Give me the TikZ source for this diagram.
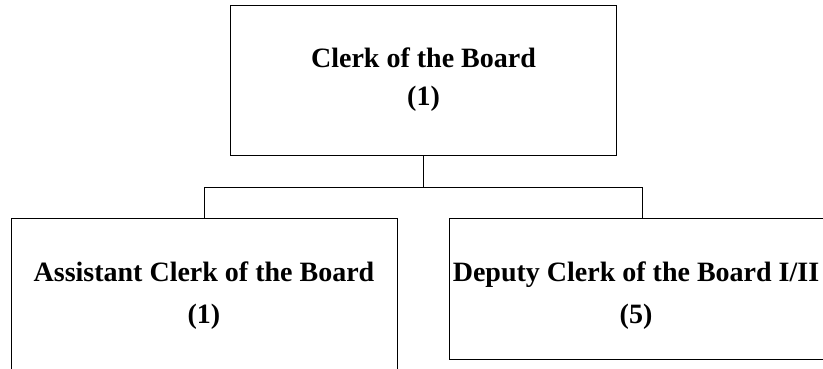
\documentclass[tikz,border=0pt]{standalone}
\usepackage{fontspec}
\setmainfont{Liberation Serif}

\begin{document}
\begin{tikzpicture}[x=1pt, y=1pt,
        every node/.style={font=\bfseries},
        post/.style={draw=black, line width=0.9pt, fill=white,
            minimum width=386pt, align=center},
        wide/.style={font=\bfseries\fontsize{28}{38}\selectfont},
        low/.style={font=\bfseries\fontsize{28}{42}\selectfont}]
      \useasboundingbox (0,0) rectangle (823,369);
      \node[post, wide, minimum height=150pt]
            (clerk) at (423.5,289) {Clerk of the Board\\(1)};
      \node[post, low, minimum height=156pt]
            (asst) at (204,73) {Assistant Clerk of the Board\\(1)};
      \node[post, minimum height=141pt,
            label={[name=deputytext, low, align=center, xshift=-6pt, yshift=-7.5pt]center:Deputy Clerk of the Board I/II\\(5)}]
            (deputy) at (642,80.5) {};
      \draw[line width=0.9pt] (clerk.south) -- ++(0,-32) coordinate (bar);
      \draw[line width=0.9pt] (asst.north) |- (bar) -| (deputy.north);
    \end{tikzpicture}
\end{document}
